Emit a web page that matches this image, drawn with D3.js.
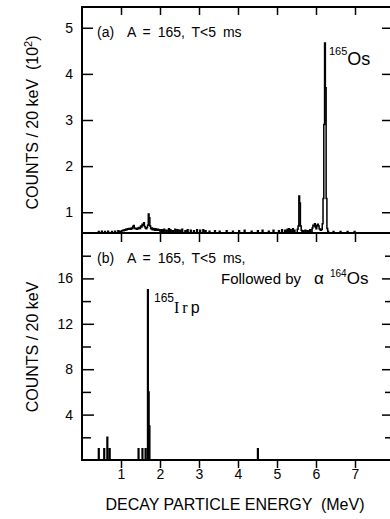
<!DOCTYPE html>
<html>
<head>
<meta charset="utf-8">
<script src="https://cdn.jsdelivr.net/npm/d3@7"></script>
<style>
  body { margin: 0; background: #fff; }
  svg { display: block; }
  text { font-family: "Liberation Sans", Arial, sans-serif; fill: #000; white-space: pre; }
</style>
</head>
<body>
<svg id="chart"></svg>
<script>
const binWidth = 0.02;   // MeV, 20 keV bins

// panel (a): counts per bin in units of 10^2; bins not listed sit below the axis cut
const energiesA = [
  0.42, 0.50, 0.58, 0.66, 0.76, 0.84, 0.92, 0.96,
  1.02, 1.04, 1.06, 1.08, 1.10, 1.12, 1.14, 1.16, 1.18, 1.20,
  1.22, 1.24, 1.26, 1.28, 1.30, 1.32, 1.34, 1.36, 1.38, 1.40,
  1.42, 1.44, 1.46, 1.48, 1.50, 1.52, 1.54, 1.56, 1.58, 1.60,
  1.62, 1.64, 1.66, 1.68, 1.70, 1.72, 1.74, 1.76, 1.78, 1.80,
  1.82, 1.84, 1.86, 1.88, 1.90, 1.92, 1.94, 1.96, 1.98,
  2.04, 2.08, 2.10, 2.16, 2.22, 2.26, 2.32, 2.38, 2.44, 2.50,
  2.56, 2.64, 2.70, 2.78, 2.86, 2.94, 3.02, 3.10, 3.16, 3.26,
  3.40, 3.52, 3.70, 3.86, 4.02, 4.16, 4.34, 4.50, 4.62, 4.78,
  4.90, 5.04, 5.12, 5.20, 5.26, 5.30, 5.34, 5.40, 5.44,
  5.52, 5.54, 5.56, 5.58, 5.60, 5.62,
  5.66, 5.72, 5.78, 5.84, 5.90, 5.92, 5.94, 5.96, 5.98, 6.00,
  6.02, 6.04, 6.06, 6.08, 6.10, 6.12, 6.14, 6.16, 6.18, 6.20,
  6.22, 6.24, 6.26, 6.28, 6.30,
  6.44, 6.62, 6.80, 6.98
];
const countsA = [
  0.58, 0.59, 0.58, 0.59, 0.58, 0.59, 0.60, 0.59,
  0.60, 0.61, 0.60, 0.62, 0.61, 0.63, 0.62, 0.64, 0.63, 0.65,
  0.64, 0.63, 0.66, 0.64, 0.69, 0.71, 0.66, 0.64, 0.65, 0.63,
  0.66, 0.64, 0.67, 0.65, 0.70, 0.68, 0.74, 0.72, 0.77, 0.69,
  0.66, 0.64, 0.67, 0.72, 0.96, 0.88, 0.70, 0.64, 0.66, 0.62,
  0.65, 0.63, 0.61, 0.64, 0.62, 0.61, 0.63, 0.61, 0.62,
  0.62, 0.60, 0.63, 0.61, 0.64, 0.62, 0.60, 0.63, 0.62, 0.61,
  0.63, 0.60, 0.62, 0.61, 0.60, 0.62, 0.61, 0.62, 0.60, 0.59,
  0.60, 0.59, 0.60, 0.59, 0.60, 0.61, 0.59, 0.60, 0.61, 0.59,
  0.61, 0.60, 0.62, 0.61, 0.63, 0.64, 0.62, 0.64, 0.61,
  0.63, 0.70, 1.35, 1.20, 0.70, 0.61,
  0.60, 0.61, 0.60, 0.62, 0.66, 0.72, 0.70, 0.75, 0.68, 0.64,
  0.72, 0.74, 0.70, 0.64, 0.62, 0.61, 0.63, 0.75, 1.30, 2.90,
  4.67, 3.70, 1.30, 0.65, 0.59,
  0.58, 0.58, 0.58, 0.58
];
const floorA = 0.5;

// panel (b): counts per bin, followed by alpha decay of 164Os
const energiesB = [0.42, 0.56, 0.64, 0.70, 1.44, 1.54, 1.62, 1.68, 1.70, 1.72, 4.50];
const countsB   = [1, 1, 2, 1, 1, 1, 1, 15, 6, 3, 1];

const xTicks = [1, 2, 3, 4, 5, 6, 7];
const yTicksA = [1, 2, 3, 4, 5];
const yTicksBMajor = [4, 8, 12, 16];
const yTicksBMinor = [2, 6, 10, 14, 18];

const width = 390, height = 519;

const svg = d3.select('#chart')
    .attr('width', width)
    .attr('height', height);

const x = d3.scaleLinear().domain([0, 8]).range([82, 394]);
const yA = d3.scaleLinear().domain([0.55, 5.45]).range([233, 7]);
const yB = d3.scaleLinear().domain([0, 20]).range([460, 233]);

// outline of a histogram with gaps dropping to the floor
function stepPoints(energies, counts, floor) {
    const pts = [];
    energies.forEach((e, i) => {
        const prev = energies[i - 1], next = energies[i + 1];
        if (i === 0 || e - prev > binWidth * 1.5) pts.push([e, floor]);
        pts.push([e, counts[i]], [e + binWidth, counts[i]]);
        if (i === energies.length - 1 || next - e > binWidth * 1.5) pts.push([e + binWidth, floor]);
    });
    return pts;
}

const defs = svg.append('defs');
defs.append('clipPath').attr('id', 'clipA')
  .append('rect')
    .attr('x', x.range()[0]).attr('y', yA.range()[1])
    .attr('width', x.range()[1] - x.range()[0])
    .attr('height', yA.range()[0] - yA.range()[1]);
defs.append('clipPath').attr('id', 'clipB')
  .append('rect')
    .attr('x', x.range()[0]).attr('y', yB.range()[1])
    .attr('width', x.range()[1] - x.range()[0])
    .attr('height', yB.range()[0] - yB.range()[1] + 1);

// data
const lineA = d3.line().x(d => x(d[0])).y(d => yA(d[1]));
svg.append('path')
    .attr('clip-path', 'url(#clipA)')
    .attr('d', lineA(stepPoints(energiesA, countsA, floorA)))
    .attr('fill', 'none')
    .attr('stroke', '#000')
    .attr('stroke-width', 1.5)
    .attr('stroke-linejoin', 'miter');

const lineB = d3.line().x(d => x(d[0])).y(d => yB(d[1]));
svg.append('path')
    .attr('clip-path', 'url(#clipB)')
    .attr('d', lineB(stepPoints(energiesB, countsB, 0)))
    .attr('fill', '#000')
    .attr('stroke', '#000')
    .attr('stroke-width', 1.4);

// axes
function styleAxis(g, size) {
    g.select('.domain').remove();
    g.selectAll('.tick line').attr('stroke', '#000').attr('stroke-width', 1.5);
    g.selectAll('.tick text')
        .attr('font-family', '"Liberation Sans", Arial, sans-serif')
        .attr('font-size', size);
    g.attr('font-family', null).attr('font-size', null);
}

svg.append('g')
    .attr('transform', `translate(${x.range()[0]},0)`)
    .call(d3.axisLeft(yA).tickValues(yTicksA).tickSize(-11).tickPadding(9).tickFormat(d3.format('d')))
    .call(g => styleAxis(g, 14));
svg.append('g')
    .attr('transform', `translate(${x.range()[1]},0)`)
    .call(d3.axisRight(yA).tickValues(yTicksA).tickSize(-12).tickFormat(''))
    .call(g => styleAxis(g, 14));
svg.append('g')
    .attr('transform', `translate(0,${yA.range()[1]})`)
    .call(d3.axisBottom(x).tickValues(xTicks).tickSize(8).tickFormat(''))
    .call(g => styleAxis(g, 14));
svg.append('g')
    .attr('transform', `translate(0,${yB.range()[1]})`)
    .call(d3.axisBottom(x).tickValues(xTicks).tickSize(9).tickFormat(''))
    .call(g => styleAxis(g, 14));
svg.append('g')
    .attr('transform', `translate(0,${yB.range()[0]})`)
    .call(d3.axisBottom(x).tickValues(xTicks).tickSize(8).tickPadding(1).tickFormat(d3.format('d')))
    .call(g => styleAxis(g, 14));

svg.append('g')
    .attr('transform', `translate(${x.range()[0]},0)`)
    .call(d3.axisLeft(yB).tickValues(yTicksBMajor).tickSize(-12).tickPadding(9).tickFormat(d3.format('d')))
    .call(g => styleAxis(g, 14));
svg.append('g')
    .attr('transform', `translate(${x.range()[0]},0)`)
    .call(d3.axisLeft(yB).tickValues(yTicksBMinor).tickSize(-9).tickFormat(''))
    .call(g => styleAxis(g, 14));
svg.append('g')
    .attr('transform', `translate(${x.range()[1]},0)`)
    .call(d3.axisRight(yB).tickValues(yTicksBMajor).tickSize(-12).tickFormat(''))
    .call(g => styleAxis(g, 14));
svg.append('g')
    .attr('transform', `translate(${x.range()[1]},0)`)
    .call(d3.axisRight(yB).tickValues(yTicksBMinor).tickSize(-9).tickFormat(''))
    .call(g => styleAxis(g, 14));

// frames
[[yA.range()[1], yA.range()[0]], [yB.range()[1], yB.range()[0]]].forEach(([top, bottom]) => {
    svg.append('rect')
        .attr('x', x.range()[0]).attr('y', top)
        .attr('width', x.range()[1] - x.range()[0])
        .attr('height', bottom - top)
        .attr('fill', 'none')
        .attr('stroke', '#000')
        .attr('stroke-width', 2);
});

// labels
svg.append('text')
    .attr('x', 97).attr('y', 37)
    .attr('font-size', 14).attr('word-spacing', 3)
    .text('(a)  A = 165, T<5 ms');

const osA = svg.append('text').attr('x', 329);
osA.append('tspan').attr('y', 55).attr('font-size', 11).text('165');
osA.append('tspan').attr('y', 65).attr('font-size', 18).text('Os');

svg.append('text')
    .attr('x', 97).attr('y', 263)
    .attr('font-size', 14).attr('word-spacing', 3)
    .text('(b)  A = 165, T<5 ms,');

const fol = svg.append('text').attr('y', 284);
fol.append('tspan').attr('x', 221).attr('font-size', 15).text('Followed by');
fol.append('tspan').attr('x', 314).attr('font-size', 17).text('\u03b1');
fol.append('tspan').attr('x', 330).attr('y', 277).attr('font-size', 10).text('164');
fol.append('tspan').attr('y', 284).attr('font-size', 17).text('Os');

const ir = svg.append('text').attr('x', 154);
ir.append('tspan').attr('y', 302).attr('font-size', 12).text('165');
ir.append('tspan').attr('y', 313).attr('font-size', 16)
    .attr('font-family', '"Liberation Serif", "Times New Roman", serif')
    .attr('letter-spacing', 3).text('Ir');
ir.append('tspan').attr('font-size', 16).text('p');

const yLabA = svg.append('text')
    .attr('transform', 'translate(38,122.5) rotate(-90)')
    .attr('text-anchor', 'middle')
    .attr('font-size', 16);
yLabA.append('tspan').text('COUNTS / 20 keV  (10');
yLabA.append('tspan').attr('dy', -6).attr('font-size', 11).text('2');
yLabA.append('tspan').attr('dy', 6).text(')');

svg.append('text')
    .attr('transform', 'translate(38,347) rotate(-90)')
    .attr('text-anchor', 'middle')
    .attr('font-size', 16)
    .text('COUNTS / 20 keV');

svg.append('text')
    .attr('x', 235).attr('y', 510)
    .attr('text-anchor', 'middle')
    .attr('font-size', 16)
    .text('DECAY PARTICLE ENERGY  (MeV)');
</script>
</body>
</html>
